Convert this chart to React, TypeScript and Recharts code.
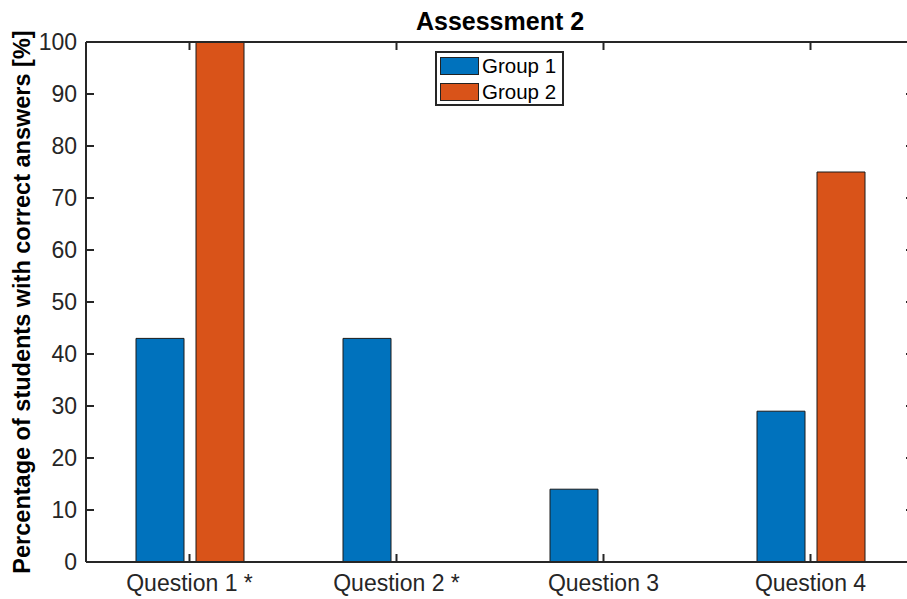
import { BarChart, Bar, XAxis, YAxis, Legend, Label, Text } from 'recharts';

const questions = ['Question 1 *', 'Question 2 *', 'Question 3', 'Question 4'];
const group1 = [43, 43, 14, 29];
const group2 = [100, 0, 0, 75];
const yTicks = [0, 10, 20, 30, 40, 50, 60, 70, 80, 90, 100];

const data = questions.map((q, i) => ({ name: q, g1: group1[i], g2: group2[i] }));

const FONT = '"Liberation Sans", Arial, Helvetica, sans-serif';
const INK = '#262626';
const PLOT_TOP = 42;
const PLOT_RIGHT = 914;

// bottom tick label plus the matching inward tick on the top box edge
function XTick(props: any) {
  const { x, y, payload } = props;
  return (
    <g>
      <line x1={x} x2={x} y1={PLOT_TOP} y2={PLOT_TOP + 8} stroke={INK} strokeWidth={2} />
      <Text x={x} y={y} textAnchor="middle" verticalAnchor="start" fill={INK} fontSize={23} fontFamily={FONT}>
        {payload.value}
      </Text>
    </g>
  );
}

// left tick label plus the matching inward tick on the right box edge
function YTick(props: any) {
  const { x, y, payload } = props;
  return (
    <g>
      <line x1={PLOT_RIGHT - 8} x2={PLOT_RIGHT} y1={y} y2={y} stroke={INK} strokeWidth={2} />
      <Text x={x} y={y} textAnchor="end" verticalAnchor="middle" fill={INK} fontSize={23} fontFamily={FONT}>
        {payload.value}
      </Text>
    </g>
  );
}

function LegendBox({ payload }: any) {
  return (
    <div
      style={{
        border: `2px solid ${INK}`,
        background: '#fff',
        width: 129,
        height: 55,
        boxSizing: 'border-box',
        paddingLeft: 3,
        fontFamily: FONT,
        fontSize: 20.5,
        color: '#000',
      }}
    >
      {(payload || []).map((p: any) => (
        <div key={p.value} style={{ display: 'flex', alignItems: 'center', height: 26 }}>
          <span
            style={{
              width: 39,
              height: 18,
              background: p.color,
              border: '1px solid #222',
              boxSizing: 'border-box',
              marginRight: 3,
            }}
          />
          <span style={{ lineHeight: '26px' }}>{p.value}</span>
        </div>
      ))}
    </div>
  );
}

export default function App() {
  return (
    <div
      style={{
        position: 'absolute',
        left: 0,
        top: 0,
        width: 907,
        height: 599,
        overflow: 'hidden',
        background: '#fff',
      }}
    >
      <div
        style={{
          position: 'absolute',
          left: 86,
          top: 9,
          width: 828,
          textAlign: 'center',
          fontFamily: FONT,
          fontWeight: 'bold',
          fontSize: 25,
          lineHeight: '25px',
          color: '#000',
        }}
      >
        Assessment 2
      </div>
      <BarChart
        width={915}
        height={599}
        data={data}
        margin={{ top: 41, right: 0, bottom: 0, left: 0 }}
        barSize={48}
        barGap={12}
      >
        <XAxis
          dataKey="name"
          height={37}
          interval={0}
          tickSize={-8}
          tickMargin={21}
          axisLine={{ stroke: INK, strokeWidth: 2 }}
          tickLine={{ stroke: INK, strokeWidth: 2 }}
          tick={<XTick />}
        />
        <XAxis
          xAxisId="top"
          dataKey="name"
          orientation="top"
          height={1}
          tickLine={false}
          tick={false}
          axisLine={{ stroke: INK, strokeWidth: 2 }}
        />
        <YAxis
          width={86}
          domain={[0, 100]}
          ticks={yTicks}
          interval={0}
          allowDataOverflow
          tickSize={-8}
          tickMargin={17}
          axisLine={{ stroke: INK, strokeWidth: 2 }}
          tickLine={{ stroke: INK, strokeWidth: 2 }}
          tick={<YTick />}
        >
          <Label
            value="Percentage of students with correct answers [%]"
            angle={-90}
            position="insideLeft"
            offset={22}
            style={{
              textAnchor: 'middle',
              fontFamily: FONT,
              fontWeight: 'bold',
              fontSize: 23.5,
              fill: '#000',
            }}
          />
        </YAxis>
        <YAxis
          yAxisId="right"
          orientation="right"
          width={1}
          domain={[0, 100]}
          tickLine={false}
          tick={false}
          axisLine={{ stroke: INK, strokeWidth: 2 }}
        />
        <Legend
          layout="horizontal"
          verticalAlign="middle"
          align="center"
          content={<LegendBox />}
          wrapperStyle={{ position: 'absolute', left: 435, top: 51, width: 'auto', height: 'auto' }}
        />
        <Bar dataKey="g1" name="Group 1" fill="#0072BD" stroke="#1a1a1a" strokeWidth={1} isAnimationActive={false} />
        <Bar dataKey="g2" name="Group 2" fill="#D95319" stroke="#1a1a1a" strokeWidth={1} isAnimationActive={false} />
      </BarChart>
    </div>
  );
}
